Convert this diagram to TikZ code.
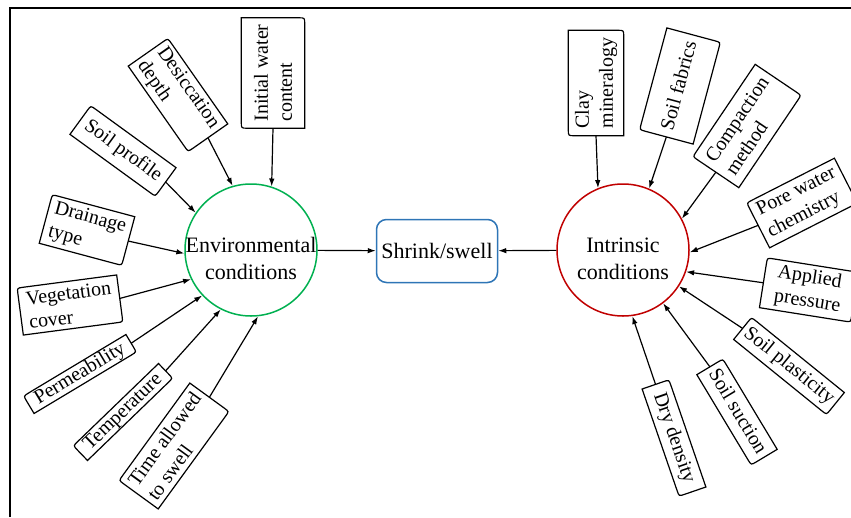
\documentclass[tikz,border=0pt]{standalone}
\usepackage{fontspec}
\setmainfont{Liberation Serif}
\usetikzlibrary{arrows.meta,calc}

\definecolor{envgreen}{RGB}{0,176,80}
\definecolor{intrred}{RGB}{192,0,0}
\definecolor{swellblue}{RGB}{46,117,182}

\begin{document}
\begin{tikzpicture}[x=1pt,y=-1pt,
  factor/.style={align=left, inner xsep=3pt, inner ysep=2pt, font=\fontsize{20}{24}\selectfont},
  slim/.style={factor, text height=14pt, text depth=4pt, inner ysep=1pt},
  cond/.style={circle, draw, line width=1.5pt, minimum size=132pt, inner sep=0pt, align=center, font=\fontsize{22}{27}\selectfont},
  outline/.style={line width=1.2pt},
  arr/.style={-{Latex[length=8pt,width=5.5pt]}, line width=1.2pt}]
\useasboundingbox (0,0) rectangle (851,517);
\draw[line width=2pt] (10,517) -- (10,8) -- (851,8);

% the two groups and the outcome
\node[cond, draw=envgreen] (env) at (251,250) {\rule{0pt}{33pt}\makebox[0pt]{Environmental}\\\makebox[0pt]{conditions}};
\node[cond, draw=intrred] (intr) at (623,250) {\rule{0pt}{33pt}\makebox[0pt]{Intrinsic}\\\makebox[0pt]{conditions}};
\node[draw=swellblue, line width=1.5pt, rounded corners=10pt, minimum width=121pt, minimum height=63pt, font=\fontsize{22}{27}\selectfont] (swell) at (437,251) {Shrink/swell};

% environmental factors
\node[factor, rotate=90, minimum width=110pt, minimum height=63pt] (iwc) at (273,73) {Initial water\\content};
\node[factor, rotate=-55, minimum width=104pt, minimum height=48pt] (desic) at (178,95) {Desiccation\\depth};
\node[slim, rotate=-36, minimum width=105pt, minimum height=35pt] (profile) at (123,151) {Soil profile};
\node[factor, rotate=-15, minimum width=85pt, minimum height=50pt] (drain) at (87,230) {Drainage\\type};
\node[factor, rotate=7.5, minimum width=100pt, minimum height=47pt] (veg) at (70,305) {Vegetation\\cover};
\node[slim, rotate=31, minimum width=119pt] (perm) at (80,374) {Permeability};
\node[slim, rotate=44, minimum width=118pt] (temp) at (123,412) {Temperature};
\node[factor, rotate=54, minimum width=120pt, minimum height=48pt] (time) at (174,446) {Time allowed\\to swell};

% intrinsic factors
\node[factor, rotate=90, minimum width=105pt, minimum height=55pt] (clay) at (596,83) {Clay\\mineralogy};
\node[slim, rotate=75, minimum width=105pt, minimum height=55pt] (fabrics) at (680,86) {Soil fabrics};
\node[factor, rotate=56, minimum width=111pt, minimum height=55pt] (compact) at (747,126) {Compaction\\method};
\node[factor, rotate=27, minimum width=98pt, minimum height=50pt] (pore) at (802,203) {Pore water\\chemistry};
\node[factor, rotate=-9, minimum width=92pt, minimum height=50pt] (applied) at (809,290) {Applied\\pressure};
\node[slim, rotate=-39, minimum width=119pt, minimum height=28pt] (plastic) at (789,366) {Soil plasticity};
\node[slim, rotate=-59, minimum width=105pt, minimum height=30pt] (suction) at (737,412) {Soil suction};
\node[slim, rotate=-71, minimum width=113pt, minimum height=28pt] (dry) at (674,438) {Dry density};

% boxes with two round corners
\foreach \n in {iwc,desic,profile,drain,veg,perm,temp,time,clay,fabrics,compact,pore,applied,plastic,suction,dry}
  \draw[outline] ($(\n.north west)!6pt!(\n.north east)$) -- (\n.north east)
    -- ($(\n.south east)!6pt!(\n.north east)$) .. controls (\n.south east) .. ($(\n.south east)!6pt!(\n.south west)$)
    -- (\n.south west) -- ($(\n.north west)!6pt!(\n.south west)$) .. controls (\n.north west) .. ($(\n.north west)!6pt!(\n.north east)$) -- cycle;

% arrows
\draw[arr] (env) -- (swell);
\draw[arr] (intr) -- (swell);
\draw[arr] (iwc.west) -- (env.72);
\foreach \n/\a in {desic/106,profile/146,drain/183,veg/206,perm/223,temp/243,time/276}
  \draw[arr] (\n.east) -- (env.\a);
\foreach \n/\a in {clay/112,fabrics/67,compact/28,pore/358,applied/341,plastic/327,suction/307,dry/278}
  \draw[arr] (\n.west) -- (intr.\a);
\end{tikzpicture}
\end{document}
